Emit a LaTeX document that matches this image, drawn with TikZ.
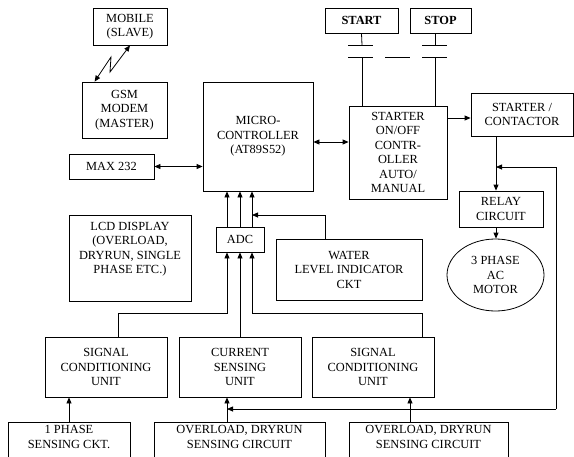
\documentclass[tikz,border=0pt]{standalone}
\usepackage{fontspec}
\setmainfont{Liberation Serif}
\newfontfamily\blkfont{Liberation Serif}
\usetikzlibrary{arrows.meta}
\usetikzlibrary{shapes.geometric}

\tikzset{
  blk/.style={draw, align=center, inner sep=0pt, font=\blkfont\fontsize{12.4}{14.5}\selectfont},
  pb/.style={line width=0.8pt},
}

\begin{document}
\begin{tikzpicture}[x=1pt,y=-1pt,line width=0.8pt,>={Triangle[length=6pt,width=5pt]}]
	\clip (0,0) rectangle (574,456);

	% gsm side
	\node[blk,minimum width=74,minimum height=37] (mobile) at (130,26.5) {MOBILE\\(SLAVE)};
	\node[blk,minimum width=85,minimum height=56] (gsm) at (124.5,110) {GSM\\MODEM\\(MASTER)};
	\node[blk,minimum width=85,minimum height=25] (max) at (111.5,166.5) {MAX 232};
	\node[blk,minimum width=110,minimum height=109] (micro) at (258,136.5) {MICRO-\\CONTROLLER\\(AT89S52)};
	\node[blk,minimum width=122,minimum height=86,text depth=20pt] (lcd) at (130,258) {LCD DISPLAY\\(OVERLOAD,\\DRYRUN, SINGLE\\PHASE ETC.)};
	\node[blk,minimum width=48,minimum height=25] (adc) at (240,239.5) {ADC};
	\node[blk,minimum width=146,minimum height=61] (water) at (349,269.5) {WATER\\LEVEL INDICATOR\\CKT};

	% starter side
	\node[blk,minimum width=73,minimum height=25,font=\blkfont\fontsize{12.4}{14.5}\selectfont\bfseries] (start) at (361.5,20.5) {START};
	\node[blk,minimum width=61,minimum height=25,font=\blkfont\fontsize{12.4}{14.5}\selectfont\bfseries] (stop) at (440.5,20.5) {STOP};
	\node[blk,minimum width=98,minimum height=93] (starter) at (398,152.5) {STARTER\\ON/OFF\\CONTR-\\OLLER\\AUTO/\\MANUAL};
	\node[blk,minimum width=102,minimum height=43] (contactor) at (522,114.5) {STARTER /\\CONTACTOR};
	\node[blk,minimum width=84,minimum height=36] (relay) at (501,209) {RELAY\\CIRCUIT};
	\node[blk,ellipse,minimum width=97,minimum height=72] (motor) at (495.5,275) {3 PHASE\\AC\\MOTOR};

	% sensing
	\node[blk,minimum width=122,minimum height=60] (sc1) at (106,367) {SIGNAL\\CONDITIONING\\UNIT};
	\node[blk,minimum width=122,minimum height=60] (cs) at (240,367) {CURRENT\\SENSING\\UNIT};
	\node[blk,minimum width=122,minimum height=60] (sc2) at (373,367) {SIGNAL\\CONDITIONING\\UNIT};
	\node[blk,anchor=north,minimum width=122,inner ysep=3pt] (ph1) at (69,422) {1 PHASE\\SENSING CKT.\\\mbox{}};
	\node[blk,anchor=north,minimum width=171,inner ysep=3pt] (ov1) at (239.5,422) {OVERLOAD, DRYRUN\\SENSING CIRCUIT\\\mbox{}};
	\node[blk,anchor=north,minimum width=159,inner ysep=3pt] (ov2) at (428.5,422) {OVERLOAD, DRYRUN\\SENSING CIRCUIT\\\mbox{}};

	% links
	\draw[<->] ([xshift=13pt]gsm.north west) -- (111,57) -- (110,72) -- (mobile.south);
	\draw[<->] (max.east) -- (max.east -| micro.west);
	\draw[<->] (micro.east |- 0,142) -- (starter.west |- 0,142);
	\draw[->] (starter.east |- 0,118) -- (contactor.west |- 0,118);
	\draw[->] (contactor.south -| 496,0) -- (relay.north -| 496,0);
	\draw[->] (relay.south -| 496,0) -- (motor.north -| 496,0);
	\foreach \dx in {-13,0,12}
		\draw[->] ([xshift=\dx pt]adc.north) -- ([xshift=\dx pt]adc.north |- micro.south);
	\draw[->] (water.north -| 325,0) -- (325,215) -- (252,215);
	\draw[->] (sc1.north -| 118,0) -- (118,313) -- (227,313) -- ([xshift=-13pt]adc.south);
	\draw[->] (cs.north) -- (adc.south);
	\draw[->] (sc2.north -| 422,0) -- (422,313) -- (252,313) -- ([xshift=12pt]adc.south);
	\draw[->] (ph1.north) -- (ph1.north |- sc1.south);
	\draw[->] (ov1.north -| 227,0) -- (sc1.south -| 227,0);
	\draw[->] (ov2.north -| 410,0) -- (sc2.south -| 410,0);

	% feedback
	\coordinate (fb) at (556,409);
	\draw[->] (fb) -- (556,167) -- (496,167);
	\draw[->] (fb) -- (227,409);

	% push buttons
	\draw[pb] (start.south) -- (362,45);
	\draw[pb] (348,45) -- (373,45);
	\draw[pb] (348,57) -- (373,57);
	\draw[pb] (362,57) -- (starter.north -| 362,0);
	\draw[pb] (stop.south -| 435,0) -- (435,45);
	\draw[pb] (422,45) -- (447,45);
	\draw[pb] (422,57) -- (447,57);
	\draw[pb] (435,57) -- (starter.north -| 435,0);
	\draw[pb] (385,57) -- (410,57);

\end{tikzpicture}
\end{document}
